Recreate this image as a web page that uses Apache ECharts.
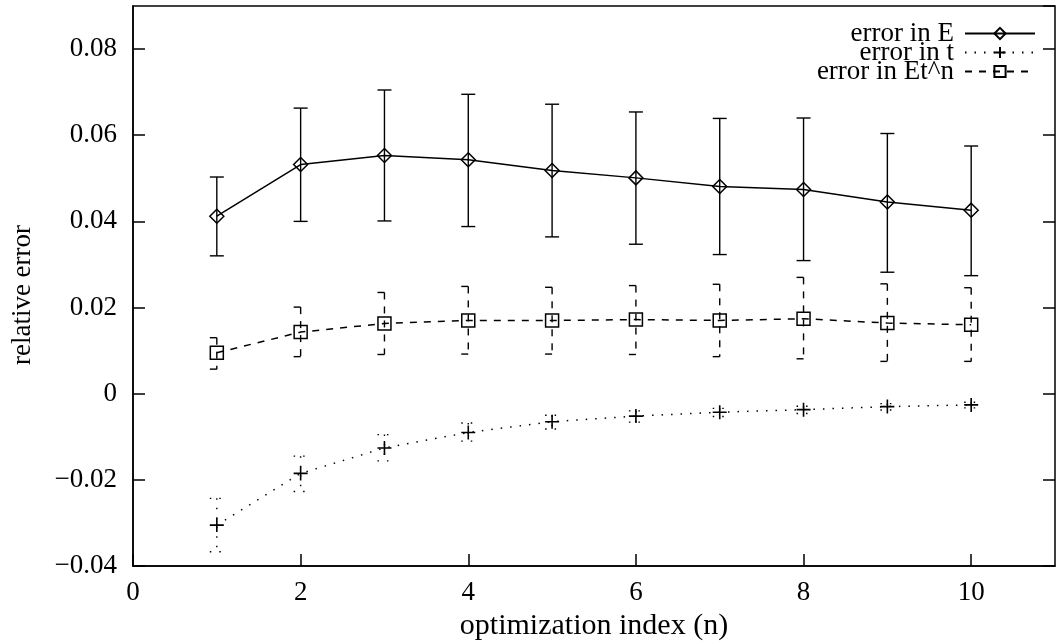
<!DOCTYPE html>
<html>
<head>
<meta charset="utf-8">
<script src="https://cdn.jsdelivr.net/npm/echarts@6/dist/echarts.min.js"></script>
<style>
html,body{margin:0;padding:0;background:#fff;}
#chart{width:1058px;height:643px;}
</style>
</head>
<body>
<div id="chart"></div>
<script>
// ---- data ----
const xIndex = [1, 2, 3, 4, 5, 6, 7, 8, 9, 10];

const errE     = [0.0412, 0.0532, 0.0553, 0.0543, 0.0518, 0.0501, 0.0481, 0.0474, 0.0445, 0.0426];
const errELow  = [0.0320, 0.0400, 0.0401, 0.0388, 0.0364, 0.0347, 0.0323, 0.0309, 0.0282, 0.0274];
const errEHigh = [0.0503, 0.0663, 0.0705, 0.0695, 0.0672, 0.0654, 0.0639, 0.0640, 0.0604, 0.0575];

const errT     = [-0.0305, -0.0185, -0.0126, -0.0090, -0.0065, -0.0052, -0.0043, -0.0037, -0.0030, -0.0026];
const errTLow  = [-0.0367, -0.0227, -0.0156, -0.0110, -0.0082, -0.0066, -0.0053, -0.0046, -0.0038, -0.0033];
const errTHigh = [-0.0243, -0.0145, -0.0095, -0.0068, -0.0050, -0.0040, -0.0034, -0.0029, -0.0023, -0.0020];

const errN     = [0.0095, 0.0143, 0.0163, 0.0170, 0.0170, 0.0172, 0.0170, 0.0174, 0.0164, 0.0160];
const errNLow  = [0.0057, 0.0086, 0.0091, 0.0092, 0.0092, 0.0091, 0.0086, 0.0081, 0.0075, 0.0075];
const errNHigh = [0.0130, 0.0201, 0.0235, 0.0249, 0.0247, 0.0251, 0.0254, 0.0270, 0.0255, 0.0246];

const seriesNames = ['error in E', 'error in t', 'error in Et^n'];
const xTicks = [0, 2, 4, 6, 8, 10];
const yTicks = [-0.04, -0.02, 0, 0.02, 0.04, 0.06, 0.08];

// ---- chart ----
const FONT = 'Liberation Serif';
const FS = 27;
const chart = echarts.init(document.getElementById('chart'));

function pairs(vals) { return xIndex.map((x, i) => [x, vals[i]]); }
function bars(lo, hi) { return xIndex.map((x, i) => [x, lo[i], hi[i]]); }

function errorBarRender(dash) {
  return function (params, api) {
    const x = api.value(0);
    const pLo = api.coord([x, api.value(1)]);
    const pHi = api.coord([x, api.value(2)]);
    const w = 7;
    const style = { stroke: '#000', lineWidth: 1.4, lineDash: dash, fill: null };
    return {
      type: 'group',
      children: [
        { type: 'line', shape: { x1: pHi[0], y1: pHi[1], x2: pLo[0], y2: pLo[1] }, style: style },
        { type: 'line', shape: { x1: pHi[0] - w, y1: pHi[1], x2: pHi[0] + w, y2: pHi[1] }, style: style },
        { type: 'line', shape: { x1: pLo[0] - w, y1: pLo[1], x2: pLo[0] + w, y2: pLo[1] }, style: style }
      ]
    };
  };
}

function fmtY(v) {
  const r = Math.round(v * 1000) / 1000;
  if (!yTicks.some(t => Math.abs(t - r) < 1e-9)) return '';
  if (r === 0) return '0';
  return (r < 0 ? '\u2212' : '') + Math.abs(r).toFixed(2);
}
function fmtX(v) {
  return xTicks.indexOf(Math.round(v)) >= 0 && Math.abs(v - Math.round(v)) < 1e-9 ? String(Math.round(v)) : '';
}

const dashDot = [1.5, 8];
const dashDash = [7, 7];

const lineCommon = {
  type: 'line',
  symbolSize: 14,
  showAllSymbol: true,
  silent: true,
  animation: false,
  z: 3
};

const option = {
  animation: false,
  backgroundColor: '#fff',
  textStyle: { fontFamily: FONT, color: '#000' },
  grid: {
    left: 133, right: 3, top: 6, bottom: 77,
    outerBoundsMode: 'none',
    containLabel: false,
    show: true, borderColor: '#000', borderWidth: 1.5, backgroundColor: 'transparent'
  },
  legend: {
    orient: 'vertical',
    right: 22,
    top: 20,
    align: 'right',
    itemWidth: 70,
    itemHeight: 14,
    itemGap: -8,
    padding: 0,
    data: seriesNames,
    textStyle: { fontFamily: FONT, fontSize: FS, color: '#000', padding: [0, 6, 0, 0] },
    selectedMode: false
  },
  xAxis: {
    type: 'value',
    min: 0, max: 11, interval: 2,
    name: 'optimization index (n)',
    nameLocation: 'middle',
    nameGap: 39,
    nameTextStyle: { fontFamily: FONT, fontSize: 30, color: '#000' },
    axisLine: { show: true, onZero: false, lineStyle: { color: '#000', width: 1.5 } },
    axisTick: { show: true, inside: true, length: 12, lineStyle: { color: '#000', width: 1.5 } },
    axisLabel: { fontFamily: FONT, fontSize: FS, color: '#000', margin: 13, formatter: fmtX, showMaxLabel: false },
    splitLine: { show: false }
  },
  yAxis: [{
    type: 'value',
    min: -0.04, max: 0.09, interval: 0.02,
    name: 'relative error',
    nameLocation: 'middle',
    nameGap: 97,
    nameRotate: 90,
    nameTextStyle: { fontFamily: FONT, fontSize: FS, color: '#000', padding: [0, 18, 0, 0] },
    axisLine: { show: true, onZero: false, lineStyle: { color: '#000', width: 1.5 } },
    axisTick: { show: true, inside: true, length: 12, lineStyle: { color: '#000', width: 1.5 } },
    axisLabel: { fontFamily: FONT, fontSize: FS, color: '#000', margin: 16, formatter: fmtY, showMaxLabel: false },
    splitLine: { show: false }
  }, {
    type: 'value',
    position: 'right',
    min: -0.04, max: 0.09, interval: 0.02,
    axisLine: { show: false, onZero: false },
    axisTick: { show: true, inside: true, length: 12, lineStyle: { color: '#000', width: 1.5 } },
    axisLabel: { show: false },
    splitLine: { show: false }
  }],
  series: [
    Object.assign({}, lineCommon, {
      name: seriesNames[0],
      data: pairs(errE),
      symbol: 'diamond',
      lineStyle: { color: '#000', width: 1.5, type: 'solid' },
      itemStyle: { color: 'transparent', borderColor: '#000', borderWidth: 1.5 }
    }),
    Object.assign({}, lineCommon, {
      name: seriesNames[1],
      data: pairs(errT),
      symbol: 'path://M0,5L10,5M5,0L5,10',
      lineStyle: { color: '#000', width: 1.5, type: dashDot },
      itemStyle: { color: 'transparent', borderColor: '#000', borderWidth: 1.6 }
    }),
    Object.assign({}, lineCommon, {
      name: seriesNames[2],
      data: pairs(errN),
      symbol: 'rect',
      symbolSize: 13,
      lineStyle: { color: '#000', width: 1.5, type: dashDash },
      itemStyle: { color: 'transparent', borderColor: '#000', borderWidth: 1.5 }
    }),
    { type: 'custom', name: 'barsE', renderItem: errorBarRender(null), data: bars(errELow, errEHigh), encode: { x: 0, y: [1, 2] }, silent: true, z: 2 },
    { type: 'custom', name: 'barsT', renderItem: errorBarRender(dashDot), data: bars(errTLow, errTHigh), encode: { x: 0, y: [1, 2] }, silent: true, z: 2 },
    { type: 'custom', name: 'barsN', renderItem: errorBarRender(dashDash), data: bars(errNLow, errNHigh), encode: { x: 0, y: [1, 2] }, silent: true, z: 2 }
  ]
};

chart.setOption(option);
</script>
</body>
</html>
